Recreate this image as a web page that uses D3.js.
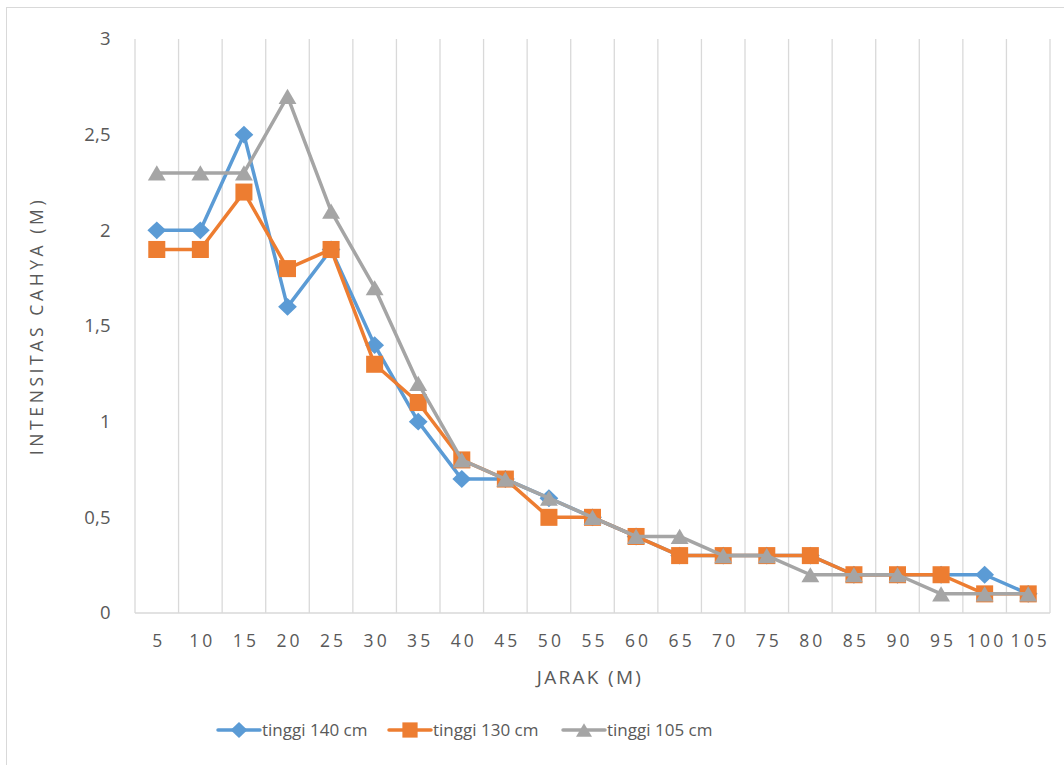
<!DOCTYPE html>
<html><head><meta charset="utf-8">
<script src="https://cdn.jsdelivr.net/npm/d3@7"></script>
<style>body{margin:0;background:#fff;}text{font-family:"Open Sans",sans-serif;fill:#595959;}</style>
</head><body>
<svg id="c" width="1064" height="765"></svg>
<script>
const categories = ["5","10","15","20","25","30","35","40","45","50","55","60","65","70","75","80","85","90","95","100","105"];
const tinggi140 = [2,2,2.5,1.6,1.9,1.4,1.0,0.7,0.7,0.6,0.5,0.4,0.3,0.3,0.3,0.3,0.2,0.2,0.2,0.2,0.1];
const tinggi130 = [1.9,1.9,2.2,1.8,1.9,1.3,1.1,0.8,0.7,0.5,0.5,0.4,0.3,0.3,0.3,0.3,0.2,0.2,0.2,0.1,0.1];
const tinggi105 = [2.3,2.3,2.3,2.7,2.1,1.7,1.2,0.8,0.7,0.6,0.5,0.4,0.4,0.3,0.3,0.2,0.2,0.2,0.1,0.1,0.1];
const yTicks = [0,0.5,1,1.5,2,2.5,3];
const seriesNames = ["tinggi 140 cm","tinggi 130 cm","tinggi 105 cm"];
const colors = ["#5B9BD5","#ED7D31","#A5A5A5"];

const svg = d3.select("#c");
svg.append("rect").attr("x",6.5).attr("y",7.5).attr("width",1064).attr("height",770)
  .attr("fill","#fff").attr("stroke","#d9d9d9").attr("stroke-width",1);

const L=135, R=1050, T=39, B=613;
const x = d3.scaleBand().domain(categories).range([L,R]);
const y = d3.scaleLinear().domain([0,3]).range([B,T]);

const bounds = categories.map(c=>x(c)).concat([R]);
svg.append("g").selectAll("line").data(bounds).join("line")
  .attr("x1",d=>d).attr("x2",d=>d).attr("y1",T).attr("y2",B)
  .attr("stroke","#d9d9d9").attr("stroke-width",1.3);
svg.append("line").attr("x1",L).attr("x2",R).attr("y1",B).attr("y2",B)
  .attr("stroke","#d9d9d9").attr("stroke-width",1.3);

svg.append("g").selectAll("text").data(yTicks).join("text")
  .attr("x",111).attr("y",d=>y(d)).attr("dy","0.35em").attr("text-anchor","end")
  .attr("font-size",18.5).attr("letter-spacing","0.3px").text(d=>String(d).replace(".",","));
svg.append("g").selectAll("text").data(categories).join("text")
  .attr("x",d=>x(d)+x.bandwidth()/2+2).attr("y",641).attr("dy","0.35em").attr("text-anchor","middle")
  .attr("font-size",17.5).attr("letter-spacing","3.1px").text(d=>d);

svg.append("text").attr("x",590).attr("y",677).attr("dy","0.35em").attr("text-anchor","middle")
  .attr("font-size",19).attr("letter-spacing","2.3px").text("JARAK (M)");
svg.append("text").attr("transform","translate(37,326) rotate(-90)").attr("dy","0.35em")
  .attr("text-anchor","middle").attr("font-size",17.5).attr("letter-spacing","3.6px").text("INTENSITAS CAHYA (M)");

const diamond = {draw(ctx,size){const r=Math.sqrt(size)/2*1.0; ctx.moveTo(0,-r);ctx.lineTo(r*1.05,0);ctx.lineTo(0,r);ctx.lineTo(-r*1.05,0);ctx.closePath();}};
const tri = {draw(ctx,size){const w=Math.sqrt(size)/2; const h=w*0.85; ctx.moveTo(0,-h);ctx.lineTo(w,h);ctx.lineTo(-w,h);ctx.closePath();}};
const sym = [diamond, d3.symbolSquare, tri];
const symSize = [320,290,320];
const data = [tinggi140,tinggi130,tinggi105];
const line = d3.line().x((d,i)=>x(categories[i])+x.bandwidth()/2).y(d=>y(d));
data.forEach((vals,k)=>{
  const g = svg.append("g");
  g.append("path").datum(vals).attr("d",line).attr("fill","none")
    .attr("stroke",colors[k]).attr("stroke-width",3.5).attr("stroke-linejoin","round");
  g.selectAll("path.m").data(vals).join("path").attr("class","m")
    .attr("transform",(d,i)=>`translate(${x(categories[i])+x.bandwidth()/2},${y(d)})`)
    .attr("d",d3.symbol().type(sym[k]).size(symSize[k])).attr("fill",colors[k]);
});

const legX = [218,389,563];
seriesNames.forEach((n,k)=>{
  const g = svg.append("g").attr("transform",`translate(${legX[k]},730)`);
  g.append("line").attr("x1",0).attr("x2",42).attr("y1",0).attr("y2",0)
    .attr("stroke",colors[k]).attr("stroke-width",3.5).attr("stroke-linecap","round");
  g.append("path").attr("transform",`translate(21,0)`)
    .attr("d",d3.symbol().type(sym[k]).size(symSize[k]*0.8)).attr("fill",colors[k]);
  g.append("text").attr("x",44).attr("y",0).attr("dy","0.35em").attr("font-size",17).text(n);
});
</script>
</body></html>
